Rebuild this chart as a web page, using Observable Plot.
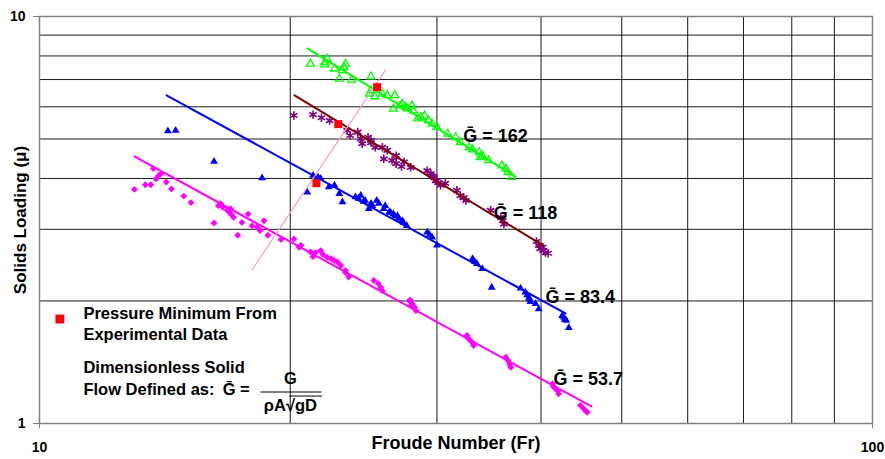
<!DOCTYPE html>
<html><head><meta charset="utf-8">
<script src="https://cdn.jsdelivr.net/npm/d3@7"></script>
<script src="https://cdn.jsdelivr.net/npm/@observablehq/plot@0.6"></script>
<style>
html,body{margin:0;padding:0;background:#fff;}
svg{display:block;}
</style></head><body><div id="chart"></div>
<script>
// Froude number (x) vs solids loading (y), log-log
const greenFr = [21.15,22.0,22.15,22.0,22.6,23.1,23.3,23.2,22.9,23.7,25.0,24.9,25.0,25.8,26.15,26.7,26.6,27.25,27.5,28.0,28.1,28.45,29.0,29.3,29.6,30.0,30.9,31.6,32.0,32.8,33.7,34.0,34.6,35.9,36.3,36.9,27.1,28.7,33.8,27.65,33.1,36.5,25.25];
const greenMu = [7.65,7.72,7.87,7.62,7.44,7.37,7.65,7.51,7.03,6.99,7.12,6.46,6.58,6.46,6.40,6.40,5.93,6.10,5.99,6.04,5.87,5.61,5.71,5.55,5.45,5.35,5.15,5.05,4.91,4.77,4.64,4.55,4.43,4.30,4.23,4.03,6.04,5.66,4.51,5.94,4.71,4.14,6.36];

const purpleFr = [20.2,21.3,21.8,22.3,23.4,24.1,24.4,24.8,25.0,25.8,26.15,25.9,26.8,26.8,27.4,27.9,27.2,29.5,29.75,30.0,30.3,31.7,29.9,32.0,32.5,35.8,36.1,39.75,40.3,39.9,29.2,30.7,34.8,40.8,39.5,23.6,24.3,25.3,26.5,29.6,30.1,40.2,40.5,32.3,36.0,25.0];
const purpleMu = [5.71,5.74,5.64,5.55,5.25,5.20,4.87,5.05,4.96,4.77,4.69,4.47,4.55,4.35,4.39,4.26,4.28,4.11,4.03,3.95,3.85,3.74,3.95,3.63,3.53,3.21,3.09,2.74,2.66,2.69,4.18,3.89,3.34,2.62,2.80,5.10,5.01,4.77,4.43,4.05,3.91,2.71,2.63,3.59,3.15,4.90];

const blueFr = [14.26,14.57,16.2,18.5,21.3,21.6,20.96,22.25,22.6,22.9,23.1,23.95,24.3,24.6,25.0,24.85,25.55,25.9,26.3,26.6,26.9,27.25,27.6,29.2,29.6,30.0,33.1,33.5,34.0,34.9,38.3,38.7,38.85,39.75,42.6,42.4,43.2,25.4,26.0,27.0,37.8,39.4,42.9,24.15,24.5,25.1,26.4,26.7,27.35,29.4,33.3,38.5,38.75,42.7,21.75];
const blueMu = [5.23,5.25,4.40,4.01,4.07,4.03,3.70,3.81,3.85,3.67,3.50,3.60,3.63,3.53,3.47,3.37,3.47,3.37,3.31,3.27,3.24,3.15,3.06,2.95,2.87,2.74,2.54,2.47,2.40,2.16,2.10,2.04,1.99,1.91,1.825,1.84,1.72,3.53,3.43,3.19,2.15,1.97,1.79,3.57,3.51,3.43,3.30,3.23,3.12,2.91,2.50,2.07,2.02,1.80,4.00];

const magentaFr = [13.0,13.4,13.6,13.7,13.8,13.9,14.0,14.2,14.4,14.9,15.2,16.2,16.5,16.6,16.8,16.96,17.1,17.3,17.5,17.8,18.0,18.25,18.6,18.4,18.8,19.5,20.2,20.5,21.15,21.3,21.75,22.15,22.6,23.0,23.5,25.2,25.7,27.9,28.3,27.8,32.6,33.2,36.3,36.8,41.3,42.0,44.6,45.45,32.9,36.5,41.6,45.0,28.0,23.3,20.6,25.5,16.4,16.9,17.0,21.45,21.9,22.4,22.8,23.3,25.8,28.0,28.2,32.7,33.1,36.7,41.4,41.9,45.2];
const magentaMu = [3.76,3.86,3.86,4.23,3.99,4.07,4.11,3.92,3.77,3.62,3.49,3.11,3.47,3.40,3.34,3.37,3.21,2.90,3.12,3.27,3.06,3.04,3.15,2.98,2.90,2.83,2.84,2.71,2.64,2.57,2.66,2.56,2.515,2.445,2.29,2.245,2.16,2.005,1.895,2.005,1.645,1.555,1.455,1.375,1.252,1.183,1.107,1.066,1.60,1.43,1.219,1.088,1.95,2.376,2.74,2.208,3.43,3.30,3.26,2.63,2.60,2.54,2.49,2.35,2.12,1.97,1.93,1.62,1.58,1.396,1.233,1.205,1.076];

const minFr = [25.43,22.84,21.5];
const minMu = [6.705,5.438,3.894];

// trend-line end points
const fitGreenFr = [20.97,37.27],  fitGreenMu = [8.35,4.045];
const fitBrownFr = [20.24,40.27],  fitBrownMu = [6.40,2.737];
const fitBlueFr = [14.21,42.8],    fitBlueMu = [6.40,1.864];
const fitMagentaFr = [13.0,45.98], fitMagentaMu = [4.53,1.101];
const locusFr = [18.0,26.03],      locusMu = [2.386,7.396];

const labelText = ["G\u0304 = 162","G\u0304 = 118","G\u0304 = 83.4","G\u0304 = 53.7"];
const labelFr = [32.27,35.1,40.5,41.4];
const labelMu = [5.07,3.28,2.04,1.283];

const xTicks = [10,100];
const yTicks = [1,10];
const xTickText = ["10","100"];
const yTickText = ["1","10"];
const xGrid = [10,20,30,40,50,60,70,80,90,100];
const yGrid = [1,2,3,4,5,6,7,8,9,10];

const pts = (xs, ys) => xs.map((x, i) => ({x, y: ys[i]}));
const font = '"Liberation Sans", Arial, sans-serif';

const chart = Plot.plot({
  width: 885, height: 459,
  marginLeft: 39, marginRight: 13, marginTop: 16, marginBottom: 36,
  style: {fontFamily: font, background: "#fff", color: "#000", overflow: "visible"},
  x: {type: "log", domain: [10, 100]},
  y: {type: "log", domain: [1, 10]},
  marks: [
    Plot.gridX(xGrid, {stroke: "#000", strokeOpacity: 0.9, strokeWidth: 1}),
    Plot.gridY(yGrid, {stroke: "#000", strokeOpacity: 0.9, strokeWidth: 1}),
    Plot.frame({stroke: "#808080", strokeWidth: 1.5}),
    Plot.axisX(xTicks, {tickSize: 5, stroke: "#808080", label: null, tickFormat: () => ""}),
    Plot.axisY(yTicks, {tickSize: 6, stroke: "#808080", label: null, tickFormat: () => ""}),
    Plot.text(xTicks.map((v, i) => ({v, t: xTickText[i]})), {x: "v", text: "t", frameAnchor: "bottom", dy: 24.5, lineAnchor: "middle", fontSize: 14, fontWeight: 700}),
    Plot.text(yTicks.map((v, i) => ({v, t: yTickText[i]})), {y: "v", text: "t", frameAnchor: "left", dx: -14, textAnchor: "end", lineAnchor: "middle", fontSize: 14, fontWeight: 700}),
    Plot.text(["Froude Number (Fr)"], {frameAnchor: "bottom", dy: 20, fontSize: 18, fontWeight: "bold", lineAnchor: "middle"}),
    Plot.text(["Solids Loading (\u03bc)"], {frameAnchor: "left", dx: -19, rotate: -90, textAnchor: "middle", fontSize: 17, fontWeight: "bold", lineAnchor: "middle"}),

    Plot.dot(pts(magentaFr, magentaMu), {x: "x", y: "y", symbol: "diamond2", fill: "#ff00ff", r: 3.1}),
    Plot.dot(pts(blueFr, blueMu), {x: "x", y: "y", symbol: "triangle", fill: "#0000ff", r: 2.9}),
    Plot.dot(pts(purpleFr, purpleMu), {x: "x", y: "y", symbol: "asterisk", stroke: "#800080", strokeWidth: 1.6, r: 4}),
    Plot.dot(pts(greenFr, greenMu), {x: "x", y: "y", symbol: "triangle", fill: "none", stroke: "#00ff00", strokeWidth: 1.3, r: 2.9}),

    Plot.line(pts(fitMagentaFr, fitMagentaMu), {x: "x", y: "y", stroke: "#ff00ff", strokeWidth: 2}),
    Plot.line(pts(fitBlueFr, fitBlueMu), {x: "x", y: "y", stroke: "#0000ff", strokeWidth: 2}),
    Plot.line(pts(fitBrownFr, fitBrownMu), {x: "x", y: "y", stroke: "#800000", strokeWidth: 2}),
    Plot.line(pts(fitGreenFr, fitGreenMu), {x: "x", y: "y", stroke: "#00ff00", strokeWidth: 2}),
    Plot.line(pts(locusFr, locusMu), {x: "x", y: "y", stroke: "#ff99cc", strokeWidth: 1.2}),

    Plot.dot(pts(minFr, minMu), {x: "x", y: "y", symbol: "square", fill: "#ff0000", r: 4.5}),

    Plot.text(labelText.map((t, i) => ({t, x: labelFr[i], y: labelMu[i]})), {x: "x", y: "y", text: "t", textAnchor: "start", fontSize: 18, fontWeight: "bold", letterSpacing: 0.6}),

    // legend / annotation block
    Plot.dot([{x: 10.58, y: 1.806}], {x: "x", y: "y", symbol: "square", fill: "#ff0000", r: 5}),
    Plot.text([
      {t: "Pressure Minimum From", x: 11.29, y: 1.864},
      {t: "Experimental Data", x: 11.29, y: 1.654},
      {t: "Dimensionless Solid", x: 11.29, y: 1.369},
      {t: "Flow Defined as:", x: 11.29, y: 1.212},
      {t: "G\u0304 =", x: 16.59, y: 1.212}
    ], {x: "x", y: "y", text: "t", textAnchor: "start", fontSize: 16.5, fontWeight: "bold"}),
    Plot.text([{t: "G", x: 20.01, y: 1.29}, {t: "\u03c1A\u221agD", x: 20.01, y: 1.107}], {x: "x", y: "y", text: "t", textAnchor: "middle", fontSize: 16.5, fontWeight: "bold"}),
    Plot.link([{x1: 18.42, x2: 21.80, y1: 1.195, y2: 1.195}, {x1: 19.95, x2: 21.84, y1: 1.168, y2: 1.168}], {x1: "x1", x2: "x2", y1: "y1", y2: "y2", stroke: "#000", strokeWidth: 1})
  ]
});
document.getElementById("chart").appendChild(chart);
</script></body></html>
